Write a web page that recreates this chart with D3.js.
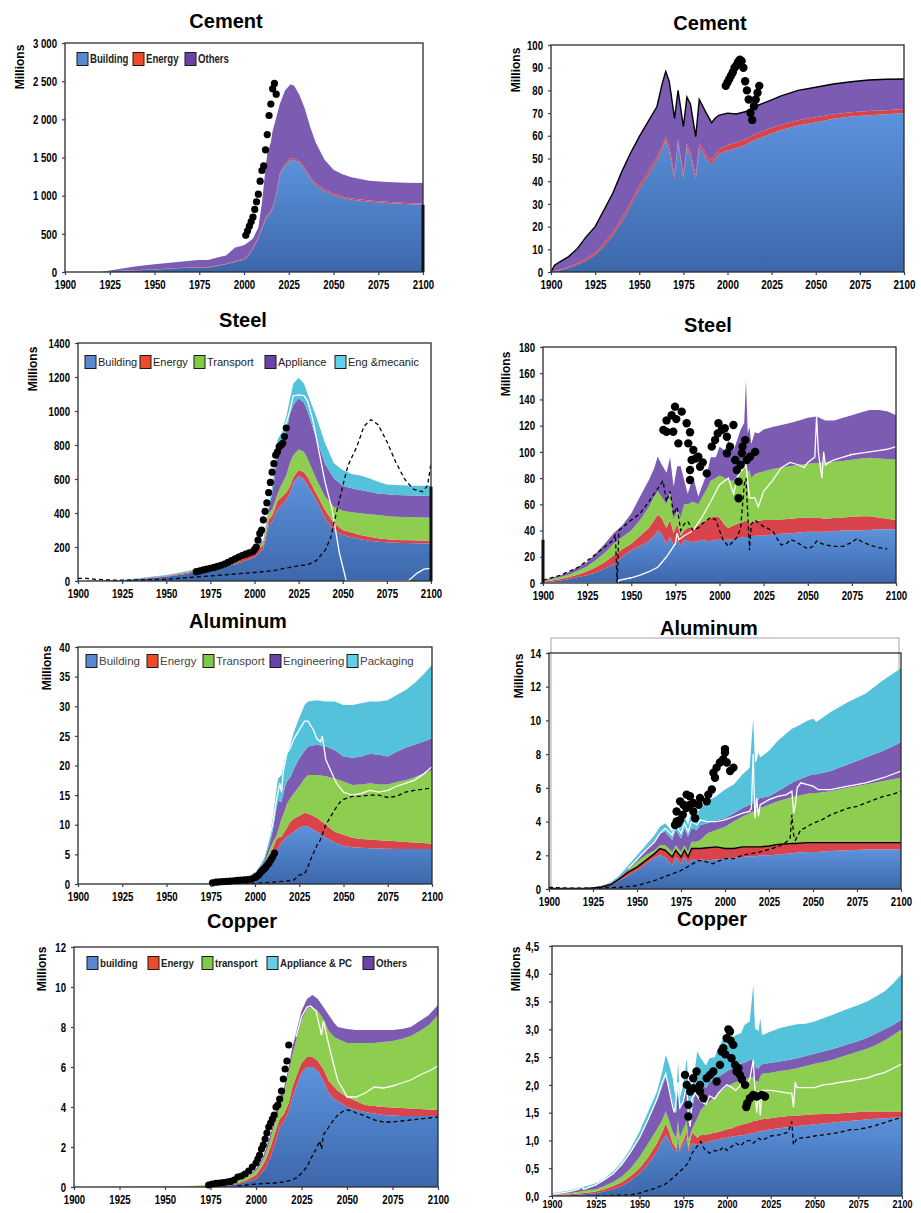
<!DOCTYPE html>
<html>
<head>
<meta charset="utf-8">
<script src="https://cdn.jsdelivr.net/npm/d3@7"></script>
<style>
  html, body { margin: 0; padding: 0; background: #fff; }
  svg { display: block; }
</style>
</head>
<body>
<svg id="chart" width="921" height="1213"></svg>
<script>
// Band arrays are stacked levels: each one is the upper edge of that band.

const xTickYears = [1900, 1925, 1950, 1975, 2000, 2025, 2050, 2075, 2100];

// ---------- Cement (left, world) ----------
const cementLYears = [1900,1920,1925,1930,1940,1950,1960,1970,1975,1980, 1985,1990,1995,2000,2003,2005,2008,2010,2012,2013, 2015,2016,2018,2020,2023,2026,2028,2031,2034,2037, 2040,2045,2050,2055,2060,2070,2080,2090,2100];
const cementLBuilding = [0,0,8,15,22,30,45,55,60,60, 80,100,130,160,230,300,440,560,680,720, 780,830,1000,1270,1400,1460,1470,1430,1340,1220, 1140,1060,1010,970,945,920,905,890,880];
const cementLEnergy = [0,0,9,17,25,34,50,60,66,66, 86,108,140,172,245,318,460,580,700,740, 800,850,1020,1290,1422,1482,1492,1452,1362,1242, 1162,1080,1028,988,962,936,920,905,895];
const cementLOthers = [0,0,20,40,75,100,125,148,157,157, 190,215,320,350,400,440,580,900,1350,1550, 1700,1850,2020,2200,2380,2460,2440,2320,2140,1900, 1700,1470,1340,1280,1240,1195,1180,1170,1165];
const cementLDotYears = [2001,2002,2003,2004,2005,2006,2007,2008,2009,2010,2011,2012,2013,2014,2015,2016,2017,2018];
const cementLDotValues = [480,540,600,660,720,820,920,1020,1190,1330,1390,1600,1800,2050,2200,2400,2470,2330];
const cementLBarYears = [2100];
const cementLBarValues = [880];
const cementLTicks = [0,500,1000,1500,2000,2500,3000];

// ---------- Cement (right) ----------
const cementRYears = [1900,1902,1905,1910,1915,1920,1925,1930,1935,1940, 1945,1950,1955,1960,1963,1965,1967,1970,1972,1975, 1977,1979,1982,1984,1986,1988,1991,1993,1995,2000, 2005,2010,2015,2020,2025,2030,2040,2050,2060,2070, 2080,2090,2100];
const cementRBuilding = [0,0.3,0.8,1.8,3.2,5,7.5,11.5,16,22, 29,36.5,42.5,49,54,58,53,41,57,41, 55,51,41,55,53,50,47.5,50,52,53.5, 54.5,56,58,59.5,61,62.5,64.5,66,67.5,68.5, 69,69.5,70];
const cementREnergy = [0,0.4,1,2.3,3.9,6,8.5,12.7,17.3,23.5, 30.5,38,44,50.5,55.5,59.5,55,42.5,58.5,42.5, 56.5,52.5,42.5,56.5,54.5,51.5,49.3,52,54,56, 57,58.5,60.5,62,63.5,64.8,66.8,68.2,69.5,70.4, 70.9,71.3,71.8];
const cementROthers = [0,3,4.5,6.8,10.4,15.6,20,27.3,34.7,44, 52.3,59.6,66.2,72.8,83,88.3,84,67.7,80,64, 77,74,59.6,76,73,70,65.8,67.7,69,70, 69.6,70.6,72.8,74.3,75.8,77.5,80,81.4,82.8,83.8, 84.6,84.9,85];
const cementRDotYears = [1999,2000,2001,2002,2003,2004,2005,2006,2007,2008,2009,2010,2011,2012,2013,2014,2015,2016,2017,2018];
const cementRDotValues = [82,83.5,85,86.5,88,90,91,92.5,93.5,93,90,84,80,76,70,67,73,76,79,82];
const cementRTicks = [0,10,20,30,40,50,60,70,80,90,100];

// ---------- Steel (left) ----------
const steelLYears = [1900,1925,1950,1960,1970,1975,1980,1990,1995,2000, 2005,2007,2008,2010,2012,2013,2015,2018,2020,2022, 2025,2028,2030,2035,2040,2045,2050,2055,2060,2065, 2070,2075,2080,2090,2100];
const steelLBuilding = [0,3,25,40,60,70,80,100,120,140, 190,280,330,350,400,420,440,480,515,580, 617,600,564,476,368,300,270,257,245,237, 231,228,225,222,221];
const steelLEnergy = [0,4,28,45,65,73,83,108,142,170, 210,300,360,385,440,470,490,520,555,610, 653,640,613,515,417,339,300,285,270,260, 251,245,241,239,237];
const steelLTransport = [0,5,30,48,68,76,86,112,148,178, 225,330,400,420,480,510,560,620,692,740, 774,760,721,600,496,437,413,405,398,392, 388,383,378,375,372];
const steelLAppliance = [0,5,32,52,72,80,90,118,155,185, 232,345,420,515,650,730,810,880,980,1035, 1074,1050,1000,840,690,604,561,545,535,525, 515,510,506,503,500];
const steelLEngMecanic = [0,6,35,55,75,84,94,123,163,192, 241,359,437,555,731,829,868,966,1064,1162, 1196,1162,1103,966,810,692,653,629,620,604, 584,568,565,561,561];
const steelLWhiteYears = [2015,2018,2020,2022,2025,2028,2030,2033,2036,2040,2044,2048,2052,2087,2092,2096,2100];
const steelLWhiteValues = [870,930,1000,1090,1095,1090,1060,950,790,580,420,170,0,0,45,70,75];
const steelLDashYears = [1900,1905,1910,1920,1925,1950,1975,2000,2010,2020, 2025,2030,2035,2040,2043,2045,2048,2050,2053,2058, 2062,2066,2070,2075,2080,2085,2090,2095,2098,2100];
const steelLDashValues = [15,15,10,5,5,10,30,50,60,80, 90,95,120,180,250,340,470,560,680,790, 910,950,920,820,700,600,540,525,560,690];
const steelLDotYears = [1967,1969,1971,1973,1975,1977,1979,1981,1983,1985, 1987,1989,1991,1993,1995,1997,1999,2000,2001,2002, 2003,2004,2005,2006,2007,2008,2009,2010,2011,2012, 2013,2014,2015,2016,2017,2018];
const steelLDotValues = [55,60,65,70,75,80,86,92,100,110, 120,130,140,150,158,165,172,185,200,240, 280,300,360,410,460,520,580,640,690,740, 760,790,800,810,850,900];
const steelLBarYears = [2100];
const steelLBarValues = [555];
const steelLTicks = [0,200,400,600,800,1000,1200,1400];

// ---------- Steel (right) ----------
const steelRYears = [1900,1905,1910,1915,1920,1925,1930,1935,1940,1945, 1950,1955,1960,1963,1965,1967,1970,1972,1974,1976, 1978,1980,1982,1985,1988,1990,1993,1995,1998,2000, 2003,2005,2008,2010,2012,2014,2015,2016,2017,2018, 2020,2022,2025,2030,2035,2040,2045,2050,2055,2060, 2065,2070,2075,2080,2085,2090,2095,2100];
const steelRBuilding = [0.5,1,2,3,4.5,6,8,11,14,20, 25,28,32,36,40,38,30,35,29,33, 28,33,32,31,32,33,32,32,33,33, 33,33,33.5,34,34.5,35,35,35,35,35.5, 36,36,36,37,37.5,38,38.5,39,39,39, 39.5,40,40,40,40.5,41,41,41];
const steelREnergy = [1,2,3,4.5,6.5,9,12,16,21,26, 30,36,42,48,52,50,42,48,38,45, 36,40,42,42,44,46,48,50,51,50, 44,42,44,45,46,47,48,46,45,46, 47,47.5,48,48,48.5,49,49.5,50,50,49, 49.5,50,50.5,51,51,50,49,48];
const steelRTransport = [1.5,3,4.5,6.5,9.5,12.5,17.5,23,30,35, 40,48,58,66,70,66,60,70,48,56, 50,60,60,62,60,65,72,78,80,82, 80,78,78,82,86,90,95,84,86,80, 83,84,85,87,88,89,90,91,91.5,92, 92.5,93,94,95,95.5,95,94.5,94];
const steelRAppliance = [2,4,6,8.6,12.5,16,22.6,30,38,44, 53,66,78.6,87.5,96.4,91,84,96,73.5,89, 89,78.6,68,81,66,73.5,84,96,96,104, 101,109,101,109,117,122,155,114,119,106, 115,114,117,119,120.5,122,124,126,127,124, 124,126,128,130,132,132,131,128];
const steelRWhiteYears = [1900,1942,1943,1950,1955,1960,1965,1970,1975,1976, 1977,1980,1985,1990,1995,2000,2005,2008,2010,2012, 2015,2017,2020,2022,2025,2030,2035,2040,2045,2048, 2050,2054,2055,2056,2058,2059,2060,2062,2065,2070, 2075,2080,2085,2090,2095,2100];
const steelRWhiteValues = [0,0,2,4,6,8.6,12,20,30,38, 33,36,40,50,62,75,80,68,80,85, 90,65,65,58,70,78,88,92,90,88, 92,96,127,100,80,100,90,92,94,96, 98,99,100,101,102,104];
const steelRDashYears = [1900,1910,1920,1930,1940,1941,1942,1943,1950,1955, 1960,1965,1968,1970,1972,1974,1976,1978,1980,1982, 1985,1988,1990,1995,1998,2000,2002,2005,2008,2010, 2012,2014,2015,2017,2018,2020,2022,2025,2030,2033, 2035,2038,2040,2043,2045,2050,2053,2055,2058,2060, 2065,2070,2075,2078,2080,2085,2090,2095];
const steelRDashValues = [2,6,12,22,33,37,0,40,48,53, 62,72,78,62,70,52,58,40,45,47, 40,42,45,50,48,40,33,28,32,35, 42,75,80,25,45,48,46,43,40,33, 29,30,33,32,30,26,28,32,30,29, 28,28,31,34,32,29,27,26];
const steelRDotYears = [1968.2,1970,1972.9,1974.8,1978.6,1981.4,1983.3,1976.7,1970,1982.3, 1985.2,1984.2,1983.3,1983.3,1988,1989,1992.8,1995.6,1997.5,1999.4, 2001.3,2004.2,2006,2007.9,2004.2,2008.9,2009.8,2010.8,2010.8,2012.7, 2014.6,2015.5,2017.4,2020.2,1973.8,1975.5,1986.5,1990.5,1999,2003, 2012,2013];
const steelRDotValues = [116.7,124,128,134.5,130.7,121.8,115,106.5,115.4,106.5, 101.4,93.8,86.2,78.6,96.4,88.7,83.6,104,109,121.8, 116.7,111.6,104,120.5,98.9,93.8,86.2,77.3,64.6,98.9, 109,93.8,96.4,100,115.4,125,95,92,114,118, 90,104];
const steelRBarYears = [1900];
const steelRBarValues = [33];
const steelRTicks = [0,20,40,60,80,100,120,140,160,180];

// ---------- Aluminum (left) ----------
const aluLYears = [1900,1975,1990,1995,2000,2003,2005,2008,2010,2012, 2013,2015,2017,2018,2020,2022,2025,2028,2030,2035, 2040,2045,2050,2055,2060,2065,2070,2075,2080,2085, 2090,2095,2100];
const aluLBuilding = [0,0.03,0.2,0.4,0.6,1,1.8,3.5,4.5,5.5, 6,7,7.6,8,8.3,8.8,9.5,9.8,9.7,8.8, 7.8,7,6.4,6.2,6.1,6.05,6,5.95,5.9,5.9, 5.9,5.9,5.9];
const aluLEnergy = [0,0.05,0.4,0.7,1.2,2,2.8,4.5,6,7.5, 7.8,8,9,9.5,10.5,11,11.5,12,11.9,11.2, 10,8.8,8.3,7.8,7.6,7.5,7.4,7.3,7.2,7.1, 7,6.9,6.8];
const aluLTransport = [0,0.1,0.6,1,1.6,2.6,3.3,5.5,7,8, 9,11,12.5,13.5,14.5,15.3,16.5,17.8,18.4,18.4, 18.2,17.8,17.3,16.7,16.8,17,16.8,16.8,17.2,17.5, 18,18.6,19.2];
const aluLEngineering = [0,0.1,0.7,1.1,1.8,2.9,3.8,6.5,9,12.5, 14,13.9,16.5,17.3,18,19.5,21.2,22.5,23.2,23.5, 23.2,22.6,21.5,21.3,21.5,22,21.8,21.5,22.3,23, 23.5,24,24.6];
const aluLPackaging = [0,0.1,0.8,1.2,2,3.2,4.3,7.7,11,15.6, 17.8,18.4,21.2,22,23.5,25.7,28,30.2,30.8,31, 30.8,30.8,30.2,30.2,30.5,30.8,30.8,31,31.9,32.7, 33.9,35.3,37];
const aluLWhiteYears = [2000,2005,2010,2012,2014,2015,2016,2018,2020,2022, 2025,2028,2030,2033,2035,2037,2038,2040,2043,2046, 2050,2055,2060,2065,2070,2075,2080,2085,2090,2095, 2100];
const aluLWhiteValues = [2,4.5,10,14,17,15.5,19,22,23,24.5, 26,27.5,27.5,26,24.5,24,25,21,19,17, 15.5,15,15.3,15.8,15.5,15.8,16.5,17,17.5,18.5, 19.8];
const aluLDashYears = [1990,2000,2010,2018,2022,2025,2028,2030,2032,2035, 2037,2040,2043,2045,2048,2050,2055,2060,2065,2070, 2075,2080,2085,2090,2095,2100];
const aluLDashValues = [0,0.1,0.3,0.5,0.7,1.5,1.7,3,4.5,6.5, 7.5,10,11.5,12.5,13.8,14.3,14.8,14.8,15,15, 14.6,14.8,15.5,15.8,16,16.2];
const aluLDotYears = [1976,1978,1980,1982,1984,1986,1988,1990,1992,1994, 1996,1998,2000,2001,2002,2003,2004,2005,2006,2007, 2008,2009,2010,2011];
const aluLDotValues = [0.2,0.3,0.35,0.4,0.45,0.5,0.55,0.6,0.65,0.7, 0.75,0.8,1.1,1.3,1.5,1.9,2.2,2.5,2.8,3.2, 3.6,4.1,4.6,5.2];
const aluLTicks = [0,5,10,15,20,25,30,35,40];

// ---------- Aluminum (right) ----------
const aluRYears = [1900,1920,1925,1930,1935,1940,1945,1950,1955,1960, 1963,1966,1970,1972,1975,1977,1979,1981,1984,1986, 1990,1995,2000,2005,2010,2014,2016,2017,2018,2019, 2020,2025,2030,2038,2040,2047,2050,2052,2060,2070, 2080,2090,2100];
const aluRBuilding = [0.02,0.02,0.04,0.08,0.2,0.5,0.8,1.1,1.5,1.85, 2.0,1.9,1.4,1.9,1.5,1.9,1.5,1.8,1.7,1.75, 1.7,1.75,1.8,1.85,1.9,1.95,1.95,1.95,1.95,1.97, 2.0,2.0,2.05,2.12,2.15,2.2,2.2,2.2,2.25,2.3, 2.35,2.35,2.35];
const aluREnergy = [0.03,0.03,0.06,0.12,0.25,0.6,1.0,1.3,1.7,2.1, 2.4,2.3,1.9,2.3,1.9,2.3,1.9,2.4,2.4,2.4, 2.45,2.5,2.4,2.4,2.5,2.5,2.5,2.5,2.5,2.5, 2.5,2.55,2.65,2.7,2.7,2.75,2.75,2.75,2.75,2.75, 2.75,2.75,2.75];
const aluRTransport = [0.04,0.04,0.08,0.15,0.3,0.65,1.1,1.6,2.0,2.3, 2.6,2.6,2.2,2.6,2.2,2.6,2.2,2.8,2.8,2.9, 3.3,3.5,3.7,4.0,4.3,4.5,4.6,4.6,4.7,4.7, 4.8,5.0,5.2,5.45,5.5,5.65,5.7,5.7,5.8,6.0, 6.2,6.4,6.6];
const aluREngineering = [0.05,0.05,0.1,0.2,0.35,0.7,1.2,1.8,2.4,2.9, 3.3,3.4,2.9,3.5,3.0,3.6,3.1,3.6,3.5,3.8, 3.9,4.1,4.2,4.5,4.8,5.0,5.1,5.1,5.2,5.3, 5.4,5.5,5.8,6.3,6.4,6.7,6.8,6.8,7.0,7.4, 7.8,8.2,8.7];
const aluRPackaging = [0.05,0.05,0.1,0.2,0.4,0.8,1.4,2,2.6,3.2, 3.7,3.9,3.4,4.2,3.6,4.3,3.8,4.6,4.4,4.8, 5.2,5.5,5.9,6.2,6.8,7.2,10.1,7.5,7.6,8.1, 7.8,8.2,8.8,9.5,9.6,10,10.1,9.9,10.5,11.1, 11.6,12.4,13.1];
const aluRWhiteYears = [1945,1950,1955,1960,1963,1966,1970,1972,1975,1977, 1979,1981,1984,1986,1990,1995,2000,2005,2010,2014, 2015,2016,2017,2018,2019,2020,2025,2030,2035,2038, 2039,2040,2041,2043,2050,2053,2060,2070,2080,2090, 2100];
const aluRWhiteValues = [1.2,1.75,2.3,2.8,3.3,3.6,3.2,3.8,3.3,3.9, 3.4,4.0,3.8,4.1,4.0,4.0,4.1,4.3,4.5,4.6, 4.8,8.0,4.2,5.4,4.3,5.0,5.3,5.5,5.6,5.8, 4.5,5.0,6.0,6.3,6.1,5.9,5.9,6.1,6.3,6.6, 7.0];
const aluRDashYears = [1900,1910,1925,1940,1950,1955,1960,1965,1970,1975, 1980,1985,1990,1993,1995,2000,2005,2010,2015,2020, 2025,2030,2035,2037,2038,2039,2040,2043,2045,2050, 2055,2060,2065,2070,2075,2080,2085,2090,2095,2100];
const aluRDashValues = [0.1,0.05,0.05,0.1,0.2,0.35,0.5,0.7,0.9,1.1, 1.4,1.7,1.6,1.5,1.6,1.8,1.8,2.0,2.1,2.2, 2.35,2.5,2.8,3.0,4.4,3.2,2.9,3.5,3.6,3.9, 4.1,4.4,4.6,4.8,4.9,5.1,5.3,5.5,5.6,5.8];
const aluRDotYears = [1971.6,1972.5,1974.5,1976.4,1978.2,1980.1,1982,1983,1985,1985.8, 1989.6,1990.5,1992.5,1994.3,1995.2,1997.1,2000,2001,2002.9,2004.8, 1974.5,1972.5,1980.1,1982,1993.4,1999,2000,1976,1978,1973.5];
const aluRDotValues = [3.8,4.6,5.2,5.0,5.6,5.0,4.6,4.2,5.0,5.4, 5.2,5.6,5.9,6.6,7.2,7.5,8.1,7.5,7.0,7.2, 4.1,4.0,5.5,5.1,6.9,7.7,8.3,4.4,4.8,3.9];
const aluRTicks = [0,2,4,6,8,10,12,14];

// ---------- Copper (left) ----------
const copperLYears = [1900,1955,1975,1985,1990,1995,2000,2003,2005,2008, 2010,2013,2015,2018,2020,2022,2025,2028,2031,2034, 2037,2040,2043,2045,2050,2055,2060,2065,2070,2075, 2080,2085,2090,2095,2100];
const copperLBuilding = [0,0.005,0.03,0.08,0.15,0.25,0.4,0.7,0.9,1.5, 2.0,3.0,3.2,3.8,4.5,5.0,5.7,6.0,6.0,5.8, 5.3,4.7,4.4,4.3,4.0,3.85,3.75,3.68,3.6,3.57, 3.55,3.55,3.55,3.55,3.55];
const copperLEnergy = [0,0.01,0.05,0.12,0.2,0.35,0.6,1.0,1.3,2.0, 2.6,3.4,3.6,4.2,5.0,5.5,6.2,6.5,6.5,6.3, 5.9,5.3,5.0,4.8,4.5,4.3,4.1,4.05,4.0,3.97, 3.95,3.92,3.9,3.87,3.85];
const copperLTransport = [0,0.02,0.1,0.2,0.3,0.5,0.8,1.2,1.6,2.4, 3.1,4.0,4.5,5.8,6.6,7.3,8.3,8.9,9.0,8.8, 8.4,7.8,7.5,7.4,7.2,7.2,7.2,7.2,7.25,7.3, 7.4,7.55,7.8,8.1,8.6];
const copperLOthers = [0,0.02,0.1,0.2,0.3,0.5,0.9,1.3,1.8,2.6, 3.4,4.5,4.8,6.0,7.0,7.7,8.8,9.4,9.6,9.4, 9.0,8.6,8.2,8.0,7.9,7.85,7.85,7.85,7.85,7.85, 7.9,8.0,8.3,8.6,9.1];
const copperLWhiteYears = [2022,2025,2028,2030,2033,2035,2036,2037,2040,2043, 2045,2048,2050,2055,2060,2065,2070,2075,2080,2085, 2090,2095,2100];
const copperLWhiteValues = [7.5,8.5,9.0,9.05,8.8,8.0,7.6,8.3,7.1,6.0, 5.3,4.85,4.5,4.5,4.7,5.0,4.95,5.05,5.2,5.35, 5.6,5.8,6.05];
const copperLDashYears = [1990,2000,2010,2015,2020,2023,2025,2028,2030,2033, 2035,2036,2037,2040,2043,2045,2048,2050,2053,2055, 2060,2065,2070,2075,2080,2085,2090,2095,2100];
const copperLDashValues = [0.05,0.15,0.2,0.25,0.35,0.5,0.7,1.0,1.4,1.9, 2.3,1.9,2.6,3.0,3.4,3.6,3.8,3.85,3.8,3.7, 3.55,3.35,3.25,3.25,3.3,3.35,3.4,3.45,3.5];
const copperLDotYears = [1974,1976,1978,1980,1982,1984,1986,1988,1990,1992, 1994,1996,1998,2000,2001,2002,2003,2004,2005,2006, 2007,2008,2009,2010,2011,2012,2013,2014,2015,2016, 2017,2018];
const copperLDotValues = [0.1,0.15,0.18,0.2,0.22,0.25,0.28,0.35,0.5,0.55, 0.65,0.8,1.0,1.2,1.4,1.6,1.9,2.1,2.4,2.7, 3.0,3.2,3.4,3.6,4.0,4.1,4.4,4.8,5.4,5.9, 6.3,7.1];
const copperLTicks = [0,2,4,6,8,10,12];

// ---------- Copper (right) ----------
const copperRYears = [1900,1910,1920,1925,1930,1935,1940,1945,1950,1955, 1960,1963,1965,1967,1969,1970,1971,1972,1973,1975, 1977,1978,1980,1983,1985,1988,1990,1993,1995,1998, 2000,2003,2005,2008,2010,2013,2015,2016,2017,2018, 2019,2020,2025,2030,2035,2040,2045,2050,2055,2060, 2065,2070,2075,2080,2085,2090,2095,2100];
const copperRBuilding = [0.005,0.015,0.035,0.05,0.08,0.12,0.18,0.28,0.4,0.58, 0.8,1.0,1.1,1.0,0.85,0.82,0.8,1.05,0.8,0.92, 1.05,0.8,0.95,0.92,0.95,0.96,0.98,1.0,1.02,1.04, 1.05,1.07,1.08,1.09,1.1,1.12,1.13,1.14,1.15,1.16, 1.16,1.17,1.2,1.22,1.24,1.26,1.275,1.29,1.305,1.32, 1.335,1.35,1.365,1.38,1.39,1.4,1.41,1.42];
const copperREnergy = [0.01,0.03,0.06,0.08,0.12,0.18,0.25,0.36,0.5,0.7, 0.95,1.15,1.3,1.15,0.95,0.9,0.85,1.15,0.85,1.0, 1.15,0.85,1.15,1.05,1.1,1.1,1.12,1.14,1.15,1.18, 1.2,1.22,1.25,1.28,1.3,1.32,1.35,1.35,1.36,1.37, 1.37,1.38,1.4,1.42,1.44,1.45,1.46,1.47,1.475,1.48, 1.49,1.5,1.51,1.52,1.52,1.52,1.52,1.52];
const copperRTransport = [0.02,0.05,0.1,0.12,0.18,0.25,0.35,0.5,0.7,0.95, 1.2,1.37,1.52,1.35,1.15,1.1,1.05,1.35,1.05,1.2, 1.35,1.0,1.2,1.4,1.55,1.65,1.7,1.78,1.85,1.92, 1.97,2.02,2.05,2.08,2.1,2.13,2.15,2.05,2.08,2.05, 2.15,2.2,2.22,2.25,2.27,2.3,2.34,2.38,2.41,2.45, 2.5,2.55,2.6,2.65,2.72,2.8,2.9,3.0];
const copperROthers = [0.04,0.08,0.15,0.2,0.28,0.4,0.55,0.78,1.05,1.38, 1.72,1.97,2.15,2.0,1.7,1.58,1.5,2.0,1.55,1.7, 2.05,1.4,1.55,2.1,2.0,1.95,2.05,2.1,2.15,2.2, 2.25,2.3,2.35,2.38,2.4,2.45,2.45,2.35,2.3,2.3, 2.35,2.37,2.4,2.42,2.45,2.48,2.52,2.56,2.6,2.64, 2.69,2.74,2.79,2.85,2.92,3.0,3.08,3.18];
const copperRAppliance = [0.05,0.1,0.18,0.23,0.32,0.44,0.62,0.86,1.16,1.52, 1.88,2.24,2.54,2.36,2.12,1.88,1.76,2.42,1.76,2.0, 2.48,2.0,1.88,2.6,2.48,2.35,2.48,2.5,2.66,2.84, 2.72,2.84,2.9,2.93,3.08,3.14,3.8,3.0,3.0,2.96, 3.2,2.9,2.96,3.02,3.06,3.09,3.1,3.14,3.2,3.26, 3.32,3.38,3.44,3.5,3.59,3.68,3.83,4.0];
const copperRWhiteYears = [1900,1910,1915,1917,1918,1925,1935,1940,1945,1950, 1955,1960,1963,1965,1967,1969,1970,1972,1973,1975, 1977,1978,1979,1980,1982,1985,1988,1990,1993,1995, 1998,2000,2003,2005,2008,2010,2013,2015,2016,2017, 2018,2019,2020,2025,2030,2035,2037,2038,2039,2040, 2045,2050,2055,2060,2065,2070,2075,2080,2085,2090, 2095,2100];
const copperRWhiteValues = [0.03,0.08,0.12,0.2,0.12,0.2,0.4,0.58,0.8,1.05, 1.38,1.75,2.05,2.2,1.9,1.6,1.5,2.05,1.6,1.7, 2.0,1.4,1.25,1.75,1.85,1.7,1.65,1.8,1.75,1.85, 1.95,2.0,1.95,1.9,2.0,1.95,2.1,2.45,1.9,1.5, 1.9,1.45,1.9,1.9,1.88,1.85,1.85,1.6,2.05,1.95, 1.95,1.95,2.0,2.02,2.05,2.07,2.1,2.12,2.18,2.22, 2.3,2.38];
const copperRDashYears = [1925,1945,1950,1955,1960,1965,1970,1975,1978,1980, 1985,1987,1990,1993,1995,1998,2000,2003,2005,2008, 2010,2013,2015,2018,2020,2025,2030,2035,2037,2038, 2040,2045,2050,2055,2060,2065,2070,2075,2080,2085, 2090,2095,2100];
const copperRDashValues = [0,0.02,0.05,0.1,0.15,0.22,0.35,0.5,0.6,0.77, 0.98,0.85,0.77,0.82,0.8,0.88,0.82,0.9,0.95,0.9, 0.98,1.0,0.95,1.04,1.0,1.08,1.1,1.15,1.34,0.92, 1.04,1.05,1.08,1.1,1.12,1.15,1.19,1.2,1.23,1.27, 1.32,1.37,1.42];
const copperRDotYears = [1976,1977,1978.9,1977.9,1977.9,1980.7,1982.6,1984.6,1986.5,1988.4, 1990.3,1992.2,1994.1,1996,1996.9,1997.9,1999.8,2001.7,2003.6,2002.6, 2004.6,2005.5,2007.4,2010.3,2011.6,2013.1,2015,2017,2019.8,2021.7, 1980.7,1984.6,2000.8,2002,1999,2006.5,2008.5,2011];
const copperRDotValues = [2.18,2.0,1.88,1.64,1.43,2.12,2.24,2.0,1.76,2.12, 2.18,2.24,2.06,2.36,2.6,2.66,2.84,2.96,2.72,2.48, 2.36,2.24,2.18,2.0,1.67,1.76,1.82,1.79,1.82,1.79, 1.94,1.88,3.0,2.8,2.55,2.3,2.1,1.6];
const copperRTicks = [0,0.5,1,1.5,2,2.5,3,3.5,4,4.5];

// ---------- legends ----------
const cementLegend = ["Building", "Energy", "Others"];
const steelLegend = ["Building", "Energy", "Transport", "Appliance", "Eng &mecanic"];
const aluLegend = ["Building", "Energy", "Transport", "Engineering", "Packaging"];
const copperLegend = ["building", "Energy", "transport", "Appliance & PC", "Others"];

// ---------- styling ----------
const FONT = '"Liberation Sans", Arial, Helvetica, sans-serif';
const bandFill = {
  bldg: "url(#bldgGrad)",
  energy: "#d9434b",
  transport: "#8dce50",
  purple: "#7b5cb2",
  cyan: "#55c2db"
};
const swatchFill = {
  bldg: "#5a87d2",
  energy: "#ef4a2a",
  transport: "#7fcb48",
  purple: "#6a43a6",
  cyan: "#62cfe6"
};

const spaced = d => d >= 1000 ? d3.format(",")(d).replace(",", " ") : String(d);
const plain = d => String(d);
const commaDec = d => d3.format(".1f")(d).replace(".", ",");

const panels = [
  { id: "cementL", box: {left: 65, right: 423, top: 43, bottom: 272},
    title: "Cement", titleX: 226, titleY: 28, labelX: 24, labelY: 67,
    yMax: 3000, yTicks: cementLTicks, yFormat: spaced, years: cementLYears,
    bands: [[cementLBuilding, "bldg"], [cementLEnergy, "energy"], [cementLOthers, "purple"]],
    dots: [cementLDotYears, cementLDotValues], dotR: 3.6,
    bars: [cementLBarYears, cementLBarValues],
    legend: {names: cementLegend, keys: ["bldg", "energy", "purple"], xs: [77, 133, 185], y: 59, bold: true, size: 12, squeeze: 0.8} },
  { id: "cementR", box: {left: 551, right: 904, top: 45, bottom: 272},
    title: "Cement", titleX: 710, titleY: 30, labelX: 520, labelY: 70,
    yMax: 100, yTicks: cementRTicks, yFormat: plain, years: cementRYears,
    xFont: 12,
    bands: [[cementRBuilding, "bldg"], [cementREnergy, "energy"], [cementROthers, "purple"]],
    outline: 2, dots: [cementRDotYears, cementRDotValues], dotR: 4.2 },
  { id: "steelL", box: {left: 78, right: 431, top: 343, bottom: 581},
    title: "Steel", titleX: 243, titleY: 327, labelX: 37, labelY: 369,
    yMax: 1400, yTicks: steelLTicks, yFormat: plain, years: steelLYears,
    bands: [[steelLBuilding, "bldg"], [steelLEnergy, "energy"], [steelLTransport, "transport"], [steelLAppliance, "purple"], [steelLEngMecanic, "cyan"]],
    white: [steelLWhiteYears, steelLWhiteValues], dash: [steelLDashYears, steelLDashValues],
    dots: [steelLDotYears, steelLDotValues], dotR: 3.6,
    bars: [steelLBarYears, steelLBarValues],
    legend: {names: steelLegend, keys: ["bldg", "energy", "transport", "purple", "cyan"], xs: [85, 140, 194, 265, 335], y: 362, bold: false, size: 11, squeeze: 1} },
  { id: "steelR", box: {left: 543, right: 896, top: 347, bottom: 583},
    title: "Steel", titleX: 708, titleY: 332, labelX: 510, labelY: 374,
    yMax: 180, yTicks: steelRTicks, yFormat: plain, years: steelRYears,
    bands: [[steelRBuilding, "bldg"], [steelREnergy, "energy"], [steelRTransport, "transport"], [steelRAppliance, "purple"]],
    white: [steelRWhiteYears, steelRWhiteValues], dash: [steelRDashYears, steelRDashValues],
    dots: [steelRDotYears, steelRDotValues], dotR: 4.2,
    bars: [steelRBarYears, steelRBarValues] },
  { id: "aluL", box: {left: 78, right: 432, top: 647, bottom: 884},
    title: "Aluminum", titleX: 238, titleY: 628, labelX: 51, labelY: 668,
    yMax: 40, yTicks: aluLTicks, yFormat: plain, years: aluLYears,
    bands: [[aluLBuilding, "bldg"], [aluLEnergy, "energy"], [aluLTransport, "transport"], [aluLEngineering, "purple"], [aluLPackaging, "cyan"]],
    white: [aluLWhiteYears, aluLWhiteValues], dash: [aluLDashYears, aluLDashValues],
    dots: [aluLDotYears, aluLDotValues], dotR: 3.6,
    legend: {names: aluLegend, keys: ["bldg", "energy", "transport", "purple", "cyan"], xs: [86, 147, 203, 270, 347], y: 661, bold: false, size: 11.5, squeeze: 1, color: "#444"} },
  { id: "aluR", box: {left: 549, right: 901, top: 653, bottom: 889}, outer: {left: 551, right: 899, top: 638},
    title: "Aluminum", titleX: 709, titleY: 635, labelX: 523, labelY: 676,
    yMax: 14, yTicks: aluRTicks, yFormat: plain, years: aluRYears,
    bands: [[aluRBuilding, "bldg"], [aluREnergy, "energy"], [aluRTransport, "transport"], [aluREngineering, "purple"], [aluRPackaging, "cyan"]],
    outline: 1, white: [aluRWhiteYears, aluRWhiteValues], dash: [aluRDashYears, aluRDashValues],
    dots: [aluRDotYears, aluRDotValues], dotR: 4.2 },
  { id: "copperL", box: {left: 74, right: 438, top: 947, bottom: 1187},
    title: "Copper", titleX: 242, titleY: 928, labelX: 46, labelY: 969,
    yMax: 12, yTicks: copperLTicks, yFormat: plain, years: copperLYears,
    bands: [[copperLBuilding, "bldg"], [copperLEnergy, "energy"], [copperLTransport, "transport"], [copperLOthers, "purple"]],
    white: [copperLWhiteYears, copperLWhiteValues], dash: [copperLDashYears, copperLDashValues],
    dots: [copperLDotYears, copperLDotValues], dotR: 3.6,
    legend: {names: copperLegend, keys: ["bldg", "energy", "transport", "cyan", "purple"], xs: [87, 148, 202, 267, 363], y: 963, bold: true, size: 11, squeeze: 0.88} },
  { id: "copperR", box: {left: 552, right: 902, top: 946, bottom: 1196},
    title: "Copper", titleX: 712, titleY: 926, labelX: 520, labelY: 969,
    yMax: 4.5, yTicks: copperRTicks, yFormat: commaDec, years: copperRYears,
    xFont: 11, xPad: 1, yPad: 10,
    bands: [[copperRBuilding, "bldg"], [copperREnergy, "energy"], [copperRTransport, "transport"], [copperROthers, "purple"], [copperRAppliance, "cyan"]],
    white: [copperRWhiteYears, copperRWhiteValues], dash: [copperRDashYears, copperRDashValues],
    dots: [copperRDotYears, copperRDotValues], dotR: 4.2 }
];

const svg = d3.select("#chart");
const defs = svg.append("defs");

// vertical shading of the building band, lighter on top
const grad = defs.append("linearGradient").attr("id", "bldgGrad")
  .attr("x1", 0).attr("y1", 0).attr("x2", 0).attr("y2", 1);
grad.append("stop").attr("offset", "0%").attr("stop-color", "#5c93dc");
grad.append("stop").attr("offset", "100%").attr("stop-color", "#3d67ab");

// squeeze text horizontally like the condensed labels of the original
function condense(sel, f) {
  sel.each(function() {
    const len = this.getComputedTextLength();
    if (len > 0 && f !== 1) {
      d3.select(this).attr("textLength", len * f).attr("lengthAdjust", "spacingAndGlyphs");
    }
  });
}

function drawPanel(p) {
  const g = svg.append("g").attr("class", "panel " + p.id);
  const b = p.box;
  const x = d3.scaleLinear().domain([1900, 2100]).range([b.left, b.right]);
  const y = d3.scaleLinear().domain([0, p.yMax]).range([b.bottom, b.top]);

  if (p.outer) {
    g.append("rect")
      .attr("x", p.outer.left).attr("y", p.outer.top)
      .attr("width", p.outer.right - p.outer.left).attr("height", b.bottom - p.outer.top)
      .attr("fill", "none").attr("stroke", "#b5b5b5").attr("stroke-width", 1.2);
  }

  const clipId = "clip-" + p.id;
  defs.append("clipPath").attr("id", clipId).append("rect")
    .attr("x", b.left).attr("y", b.top)
    .attr("width", b.right - b.left).attr("height", b.bottom - b.top);

  const plot = g.append("g").attr("clip-path", `url(#${clipId})`);

  // stacked bands
  p.bands.forEach(([levels, key], i) => {
    const lower = i === 0 ? null : p.bands[i - 1][0];
    const area = d3.area()
      .x((d, j) => x(p.years[j]))
      .y0((d, j) => y(lower ? lower[j] : 0))
      .y1(d => y(d));
    plot.append("path").datum(levels).attr("d", area).attr("fill", bandFill[key]);
  });

  const line = (yrs) => d3.line().x((d, j) => x(yrs[j])).y(d => y(d));

  if (p.outline !== undefined) {
    const lv = p.bands[p.outline][0];
    plot.append("path").datum(lv).attr("d", line(p.years))
      .attr("fill", "none").attr("stroke", "#000").attr("stroke-width", 1.4);
  }
  if (p.white) {
    plot.append("path").datum(p.white[1]).attr("d", line(p.white[0]))
      .attr("fill", "none").attr("stroke", "#fff").attr("stroke-width", 1.3);
  }
  if (p.dash) {
    plot.append("path").datum(p.dash[1]).attr("d", line(p.dash[0]))
      .attr("fill", "none").attr("stroke", "#000").attr("stroke-width", 1.3)
      .attr("stroke-dasharray", "4 3");
  }

  // frame
  g.append("rect")
    .attr("x", b.left).attr("y", b.top)
    .attr("width", b.right - b.left).attr("height", b.bottom - b.top)
    .attr("fill", "none").attr("stroke", "#2b2b2b").attr("stroke-width", 1.3);

  if (p.bars) {
    g.selectAll(null).data(p.bars[0]).join("rect")
      .attr("x", d => x(d) - 1.5).attr("width", 3)
      .attr("y", (d, j) => y(p.bars[1][j]))
      .attr("height", (d, j) => y(0) - y(p.bars[1][j]))
      .attr("fill", "#111");
  }

  // historical points
  if (p.dots) {
    g.selectAll(null).data(p.dots[0]).join("circle")
      .attr("cx", d => x(d))
      .attr("cy", (d, j) => y(p.dots[1][j]))
      .attr("r", p.dotR).attr("fill", "#000");
  }

  // axes
  const yAx = g.append("g").attr("transform", `translate(${b.left},0)`)
    .call(d3.axisLeft(y).tickValues(p.yTicks).tickFormat(p.yFormat)
      .tickSize(3).tickPadding(p.yPad !== undefined ? p.yPad : 5));
  const xAx = g.append("g").attr("transform", `translate(0,${b.bottom})`)
    .call(d3.axisBottom(x).tickValues(xTickYears).tickFormat(d3.format("d"))
      .tickSize(3).tickPadding(p.xPad !== undefined ? p.xPad : 5));
  [[yAx, 13], [xAx, p.xFont || 13]].forEach(([ax, fs]) => {
    ax.attr("font-family", FONT).attr("font-size", fs).attr("font-weight", "bold");
    ax.select(".domain").remove();
    ax.selectAll(".tick line").attr("stroke", "#2a3c7c").attr("stroke-width", 1.2);
    ax.selectAll(".tick text").attr("fill", "#000").call(condense, fs < 13 ? 0.82 : 0.74);
  });

  // title and axis label
  g.append("text").attr("x", p.titleX).attr("y", p.titleY)
    .attr("text-anchor", "middle").attr("font-family", FONT)
    .attr("font-size", 20).attr("font-weight", "bold").attr("fill", "#000")
    .text(p.title);
  g.append("text")
    .attr("transform", `translate(${p.labelX},${p.labelY}) rotate(-90)`)
    .attr("text-anchor", "middle").attr("font-family", FONT)
    .attr("font-size", 12).attr("font-weight", "bold").attr("fill", "#000")
    .text("Millions");

  // legend inside the plot
  if (p.legend) {
    const L = p.legend;
    L.names.forEach((name, i) => {
      g.append("rect")
        .attr("x", L.xs[i]).attr("y", L.y - 6.5).attr("width", 11).attr("height", 13)
        .attr("fill", swatchFill[L.keys[i]]).attr("stroke", "#1a1a1a").attr("stroke-width", 1);
      g.append("text")
        .attr("x", L.xs[i] + 13).attr("y", L.y).attr("dy", "0.35em")
        .attr("font-family", FONT).attr("font-size", L.size)
        .attr("font-weight", L.bold ? "bold" : "normal")
        .attr("fill", L.color || "#222")
        .text(name)
        .call(condense, L.squeeze);
    });
  }
}

panels.forEach(drawPanel);
</script>
</body>
</html>
